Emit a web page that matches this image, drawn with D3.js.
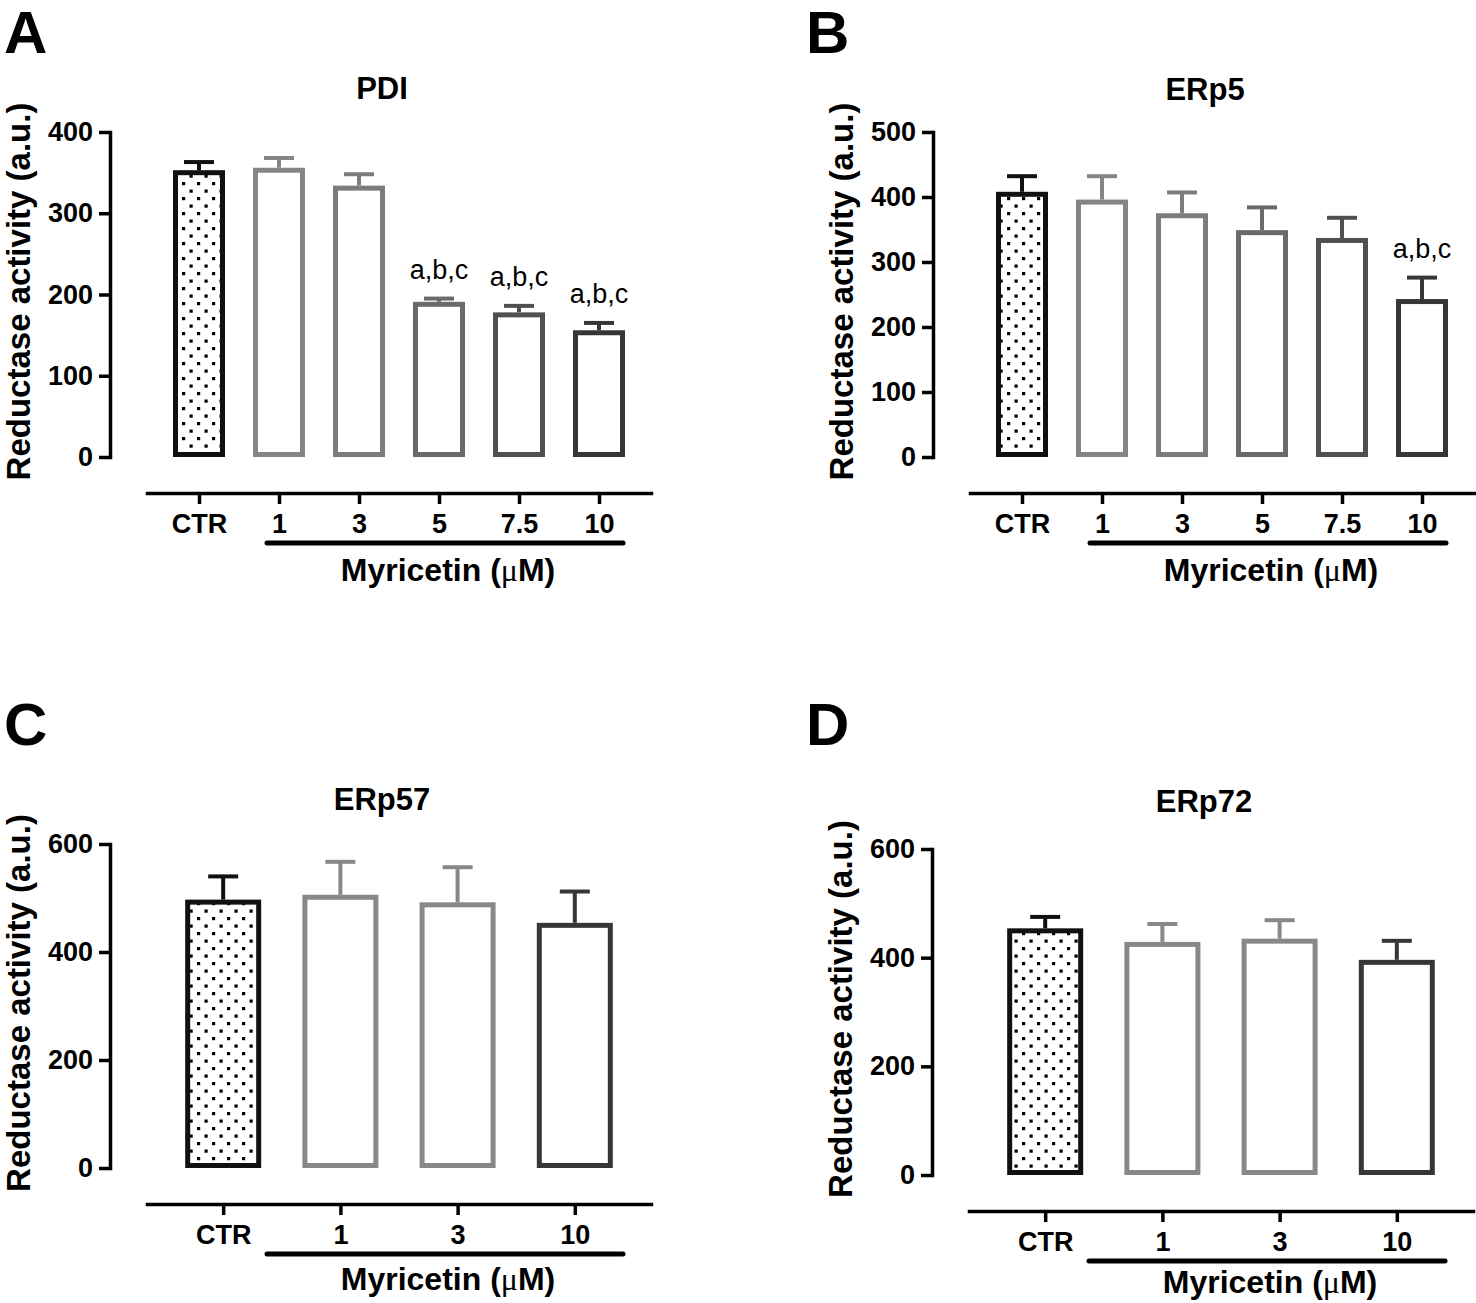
<!DOCTYPE html>
<html>
<head>
<meta charset="utf-8">
<script src="https://cdn.jsdelivr.net/npm/d3@7"></script>
<style>
body { margin: 0; background: #fff; }
svg { display: block; }
text { font-family: "Liberation Sans", Arial, sans-serif; fill: #000; }
</style>
</head>
<body>
<div id="fig"></div>
<script>
// values (mean and upper SEM whisker)
var doseCats6 = ["CTR", "1", "3", "5", "7.5", "10"];
var doseCats4 = ["CTR", "1", "3", "10"];

var pdiMean = [353, 356, 334, 191, 178, 156];
var pdiSem  = [10, 12, 14, 4, 8, 9];
var pdiSig  = ["", "", "", "a,b,c", "a,b,c", "a,b,c"];

var erp5Mean = [408, 396, 375, 349, 337, 243];
var erp5Sem  = [24, 36, 32, 35, 31, 33];
var erp5Sig  = ["", "", "", "", "", "a,b,c"];

var erp57Mean = [497, 506, 492, 454];
var erp57Sem  = [43, 61, 65, 58];

var erp72Mean = [454, 429, 435, 396];
var erp72Sem  = [21, 33, 34, 35];

var width = 1476, height = 1303;

var svg = d3.select('#fig').append('svg')
            .attr('width', width)
            .attr('height', height);

// dotted fill for the control bar
var pat = svg.append('defs').append('pattern')
             .attr('id', 'dots')
             .attr('patternUnits', 'userSpaceOnUse')
             .attr('width', 15).attr('height', 15);
pat.append('rect').attr('width', 15).attr('height', 15).attr('fill', '#fff');
pat.append('rect').attr('x', 2).attr('y', 2).attr('width', 3.2).attr('height', 3.2).attr('fill', '#000');
pat.append('rect').attr('x', 9.5).attr('y', 9.5).attr('width', 3.2).attr('height', 3.2).attr('fill', '#000');

var panels = [
  { letter: 'A', title: 'PDI', cats: doseCats6, mean: pdiMean, sem: pdiSem, sig: pdiSig,
    colors: ['#111', '#858585', '#7c7c7c', '#6a6a6a', '#505050', '#363636'],
    yMax: 400, yStep: 100, ax: 110, yTop: 132, yZero: 457, titleY: 99, lx: 4, ly: 53, labY: 88 },
  { letter: 'B', title: 'ERp5', cats: doseCats6, mean: erp5Mean, sem: erp5Sem, sig: erp5Sig,
    colors: ['#111', '#858585', '#7c7c7c', '#6a6a6a', '#505050', '#363636'],
    yMax: 500, yStep: 100, ax: 933, yTop: 132, yZero: 457, titleY: 100, lx: 806, ly: 53, labY: 88 },
  { letter: 'C', title: 'ERp57', cats: doseCats4, mean: erp57Mean, sem: erp57Sem, sig: null,
    colors: ['#111', '#888', '#888', '#363636'],
    yMax: 600, yStep: 200, ax: 110, yTop: 844, yZero: 1168, titleY: 810, lx: 4, ly: 745, labY: 86 },
  { letter: 'D', title: 'ERp72', cats: doseCats4, mean: erp72Mean, sem: erp72Sem, sig: null,
    colors: ['#111', '#888', '#888', '#363636'],
    yMax: 600, yStep: 200, ax: 932, yTop: 849, yZero: 1175, titleY: 812, lx: 806, ly: 745, labY: 82 }
];

panels.forEach(drawPanel);

function drawPanel(p) {
  var g = svg.append('g');
  var x = d3.scalePoint().domain(p.cats)
            .range([p.ax + 37, p.ax + 541]).padding(0.65);
  var y = d3.scaleLinear().domain([0, p.yMax]).range([p.yZero, p.yTop]);
  var bw = p.cats.length > 4 ? 52 : 76;
  var xAxisY = p.yZero + 36;

  // letter + title
  g.append('text').attr('x', p.lx).attr('y', p.ly)
   .style('font-size', '60px').style('font-weight', 'bold').text(p.letter);
  g.append('text').attr('x', p.ax + 272).attr('y', p.titleY)
   .attr('text-anchor', 'middle')
   .style('font-size', '31px').style('font-weight', 'bold').text(p.title);

  // y axis
  var yAxis = d3.axisLeft(y)
                .tickValues(d3.range(0, p.yMax + 1, p.yStep))
                .tickSize(11).tickSizeOuter(0).tickPadding(6);
  var ya = g.append('g').attr('transform', 'translate(' + p.ax + ',0)').call(yAxis);
  styleAxis(ya);

  g.append('text')
   .attr('transform', 'translate(' + (p.ax - 80) + ',' + ((p.yTop + p.yZero) / 2 - 3) + ') rotate(-90)')
   .attr('text-anchor', 'middle')
   .style('font-size', '33px').style('font-weight', 'bold')
   .text('Reductase activity (a.u.)');

  // x axis
  var xAxis = d3.axisBottom(x).tickSize(11).tickSizeOuter(0).tickPadding(10);
  var xa = g.append('g').attr('transform', 'translate(0,' + xAxisY + ')').call(xAxis);
  styleAxis(xa);

  g.append('line')
   .attr('x1', p.ax + 157).attr('x2', p.ax + 513)
   .attr('y1', xAxisY + 50).attr('y2', xAxisY + 50)
   .attr('stroke', '#000').attr('stroke-width', 5).attr('stroke-linecap', 'round');

  var lab = g.append('text').attr('x', p.ax + 338).attr('y', xAxisY + p.labY)
             .attr('text-anchor', 'middle')
             .style('font-size', '32px').style('font-weight', 'bold');
  lab.append('tspan').text('Myricetin (');
  lab.append('tspan').style('font-family', '"Liberation Serif", "Times New Roman", serif')
     .style('font-weight', 'normal').text('\u03bc');
  lab.append('tspan').text('M)');

  // bars
  var rows = p.cats.map(function(c, i) {
    return { cat: c, v: p.mean[i], s: p.sem[i], col: p.colors[i], i: i,
             sig: p.sig ? p.sig[i] : '' };
  });

  g.selectAll('.bar').data(rows).enter().append('rect')
   .attr('class', 'bar')
   .attr('x', function(d) { return x(d.cat) - bw / 2 + 2.5; })
   .attr('y', function(d) { return y(d.v) + 2.5; })
   .attr('width', bw - 5)
   .attr('height', function(d) { return y(0) - y(d.v) - 5; })
   .attr('fill', function(d) { return d.i === 0 ? 'url(#dots)' : '#fff'; })
   .attr('stroke', function(d) { return d.col; })
   .attr('stroke-width', 5);

  // upper error whiskers
  g.selectAll('.err').data(rows).enter().append('line')
   .attr('class', 'err')
   .attr('x1', function(d) { return x(d.cat); })
   .attr('x2', function(d) { return x(d.cat); })
   .attr('y1', function(d) { return y(d.v); })
   .attr('y2', function(d) { return y(d.v + d.s); })
   .attr('stroke', function(d) { return d.col; })
   .attr('stroke-width', 4);
  g.selectAll('.cap').data(rows).enter().append('line')
   .attr('class', 'cap')
   .attr('x1', function(d) { return x(d.cat) - 15; })
   .attr('x2', function(d) { return x(d.cat) + 15; })
   .attr('y1', function(d) { return y(d.v + d.s); })
   .attr('y2', function(d) { return y(d.v + d.s); })
   .attr('stroke', function(d) { return d.col; })
   .attr('stroke-width', 4);

  // significance letters
  g.selectAll('.sig').data(rows.filter(function(d) { return d.sig; })).enter().append('text')
   .attr('class', 'sig')
   .attr('x', function(d) { return x(d.cat); })
   .attr('y', function(d) { return y(d.v + d.s) - 20; })
   .attr('text-anchor', 'middle')
   .style('font-size', '27px')
   .text(function(d) { return d.sig; });
}

function styleAxis(sel) {
  sel.select('.domain').attr('stroke', '#000').attr('stroke-width', 3.5)
     .attr('stroke-linecap', 'square');
  sel.selectAll('.tick line').attr('stroke', '#000').attr('stroke-width', 3.5);
  sel.selectAll('.tick text')
     .style('font-size', '27px').style('font-weight', 'bold')
     .style('font-family', '"Liberation Sans", Arial, sans-serif')
     .attr('fill', '#000');
}
</script>
</body>
</html>
